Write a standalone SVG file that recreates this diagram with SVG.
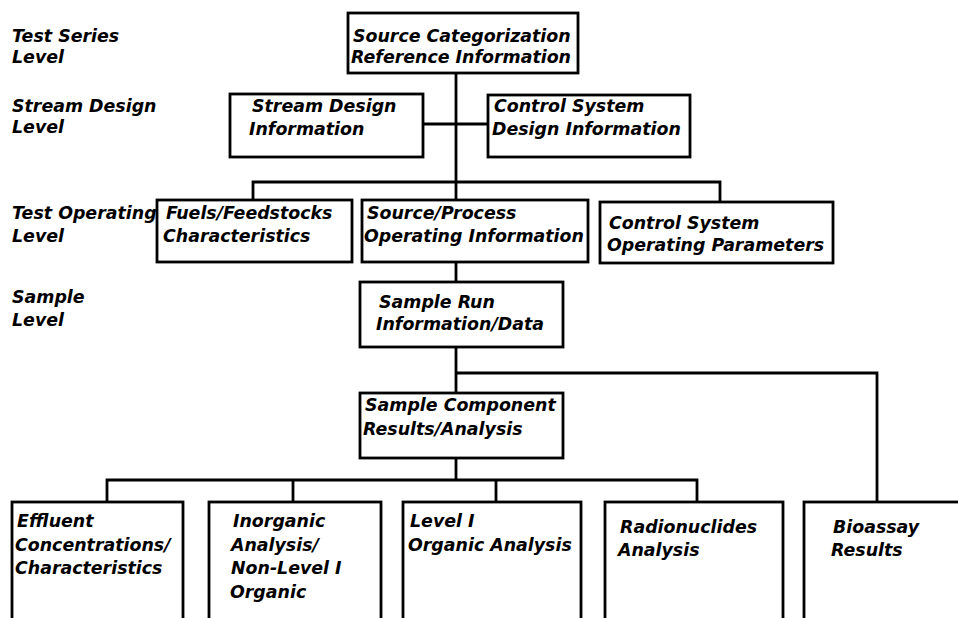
<svg xmlns="http://www.w3.org/2000/svg" width="958" height="618" viewBox="0 0 958 618">
<style>
text { font-family: "DejaVu Sans", "Liberation Sans", sans-serif; font-weight: bold; font-style: oblique; font-size: 17.4px; fill: #000; }
.box { fill: #fff; stroke: #000; stroke-width: 2.8; }
.con { fill: none; stroke: #000; stroke-width: 2.8; stroke-linejoin: miter; }
</style>
<rect width="958" height="618" fill="#fff"/>
<g id="connectors">
<path class="con" d="M456 73 V200"/>
<path class="con" d="M423 124 H488"/>
<path class="con" d="M253 200 V182 H720 V202"/>
<path class="con" d="M456 262 V282"/>
<path class="con" d="M456 347 V393"/>
<path class="con" d="M456 373 H877 V502"/>
<path class="con" d="M456 458 V480"/>
<path class="con" d="M107 502 V480 H697 V502"/>
<path class="con" d="M293 480 V502"/>
<path class="con" d="M496 480 V502"/>
</g>
<g id="levels">
<text x="12" y="42">Test Series</text>
<text x="12" y="63">Level</text>
<text x="12" y="112">Stream Design</text>
<text x="12" y="133">Level</text>
<text x="12" y="219">Test Operating</text>
<text x="12" y="242">Level</text>
<text x="12" y="303">Sample</text>
<text x="12" y="326">Level</text>
</g>
<g id="source-categorization">
<rect class="box" x="348" y="13" width="230" height="60"/>
<text x="353" y="42">Source Categorization</text>
<text x="351" y="63">Reference Information</text>
</g>
<g id="stream-design">
<rect class="box" x="230" y="94" width="193" height="63"/>
<text x="252" y="112">Stream Design</text>
<text x="249" y="135">Information</text>
</g>
<g id="control-system-design">
<rect class="box" x="488" y="95" width="202" height="62"/>
<text x="494" y="112">Control System</text>
<text x="492" y="135">Design Information</text>
</g>
<g id="fuels">
<rect class="box" x="157" y="200" width="195" height="62"/>
<text x="166" y="219">Fuels/Feedstocks</text>
<text x="163" y="242">Characteristics</text>
</g>
<g id="source-process">
<rect class="box" x="362" y="200" width="226" height="62"/>
<text x="367" y="219">Source/Process</text>
<text x="364" y="242">Operating Information</text>
</g>
<g id="control-system-operating">
<rect class="box" x="600" y="202" width="233" height="61"/>
<text x="609" y="229">Control System</text>
<text x="607" y="251">Operating Parameters</text>
</g>
<g id="sample-run">
<rect class="box" x="360" y="282" width="203" height="65"/>
<text x="379" y="308">Sample Run</text>
<text x="376" y="330">Information/Data</text>
</g>
<g id="sample-component">
<rect class="box" x="360" y="393" width="203" height="65"/>
<text x="365" y="411">Sample Component</text>
<text x="363" y="435">Results/Analysis</text>
</g>
<g id="effluent">
<rect class="box" x="12" y="502" width="171" height="140"/>
<text x="17" y="527">Effluent</text>
<text x="15" y="551">Concentrations/</text>
<text x="15" y="574">Characteristics</text>
</g>
<g id="inorganic">
<rect class="box" x="209" y="502" width="172" height="140"/>
<text x="233" y="527">Inorganic</text>
<text x="231" y="551">Analysis/</text>
<text x="231" y="574">Non-Level I</text>
<text x="230" y="598">Organic</text>
</g>
<g id="level-i">
<rect class="box" x="403" y="502" width="178" height="140"/>
<text x="410" y="527">Level I</text>
<text x="408" y="551">Organic Analysis</text>
</g>
<g id="radionuclides">
<rect class="box" x="605" y="502" width="178" height="140"/>
<text x="620" y="533">Radionuclides</text>
<text x="618" y="556">Analysis</text>
</g>
<g id="bioassay">
<rect class="box" x="804" y="502" width="180" height="140"/>
<text x="833" y="533">Bioassay</text>
<text x="831" y="556">Results</text>
</g>
</svg>
